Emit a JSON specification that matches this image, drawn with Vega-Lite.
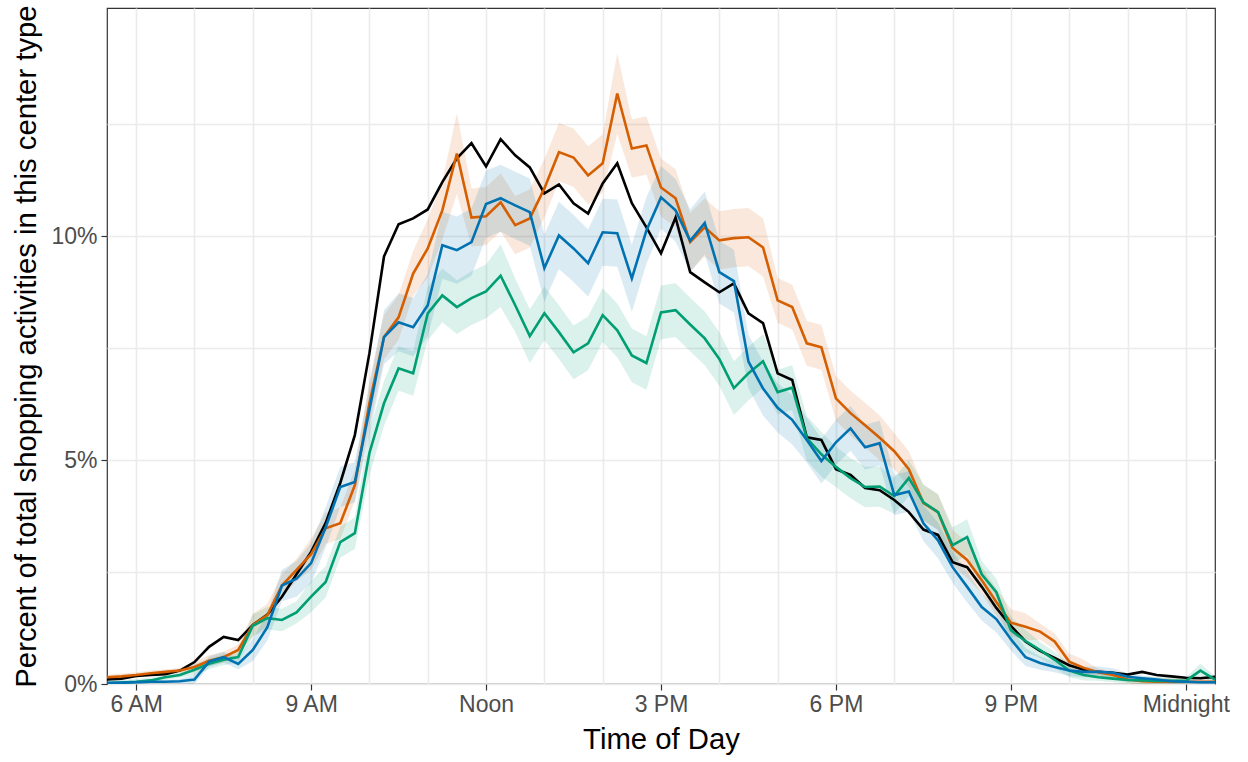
{
"$schema": "https://vega.github.io/schema/vega-lite/v6.json",
"width": 1108, "height": 676,
"autosize": {"type": "none"},
"padding": {"left": 107, "top": 8, "right": 33, "bottom": 78},
"background": "white",
"config": {
 "view": {"stroke": "#333333", "strokeWidth": 1.2},
 "font": "Liberation Sans",
 "axis": {"domain": false, "gridColor": "#EBEBEB", "gridWidth": 1.6, "tickColor": "#333333", "tickSize": 6, "tickWidth": 1.2, "labelColor": "#4D4D4D", "labelFontSize": 23, "titleFontSize": 29.3, "titleFontWeight": "normal", "titleColor": "#000000", "labelFont": "Liberation Sans", "titleFont": "Liberation Sans", "labelOverlap": false, "labelFlush": false}
},
"data": {"values": [
{"t":5.5,"s":"k","v":0.1,"e":0},{"t":5.75,"s":"k","v":0.12,"e":0},{"t":6,"s":"k","v":0.18,"e":0},{"t":6.25,"s":"k","v":0.2,"e":0},{"t":6.5,"s":"k","v":0.22,"e":0},{"t":6.75,"s":"k","v":0.3,"e":0},{"t":7,"s":"k","v":0.49,"e":0},{"t":7.25,"s":"k","v":0.83,"e":0},{"t":7.5,"s":"k","v":1.05,"e":0},{"t":7.75,"s":"k","v":0.98,"e":0},{"t":8,"s":"k","v":1.32,"e":0},{"t":8.25,"s":"k","v":1.55,"e":0},{"t":8.5,"s":"k","v":1.95,"e":0},{"t":8.75,"s":"k","v":2.45,"e":0},{"t":9,"s":"k","v":2.95,"e":0},{"t":9.25,"s":"k","v":3.6,"e":0},{"t":9.5,"s":"k","v":4.49,"e":0},{"t":9.75,"s":"k","v":5.56,"e":0},{"t":10,"s":"k","v":7.39,"e":0},{"t":10.25,"s":"k","v":9.55,"e":0},{"t":10.5,"s":"k","v":10.27,"e":0},{"t":10.75,"s":"k","v":10.4,"e":0},{"t":11,"s":"k","v":10.6,"e":0},{"t":11.25,"s":"k","v":11.21,"e":0},{"t":11.5,"s":"k","v":11.74,"e":0},{"t":11.75,"s":"k","v":12.08,"e":0},{"t":12,"s":"k","v":11.56,"e":0},{"t":12.25,"s":"k","v":12.17,"e":0},{"t":12.5,"s":"k","v":11.81,"e":0},{"t":12.75,"s":"k","v":11.54,"e":0},{"t":13,"s":"k","v":10.96,"e":0},{"t":13.25,"s":"k","v":11.16,"e":0},{"t":13.5,"s":"k","v":10.74,"e":0},{"t":13.75,"s":"k","v":10.51,"e":0},{"t":14,"s":"k","v":11.18,"e":0},{"t":14.25,"s":"k","v":11.63,"e":0},{"t":14.5,"s":"k","v":10.74,"e":0},{"t":14.75,"s":"k","v":10.2,"e":0},{"t":15,"s":"k","v":9.62,"e":0},{"t":15.25,"s":"k","v":10.42,"e":0},{"t":15.5,"s":"k","v":9.2,"e":0},{"t":15.75,"s":"k","v":8.97,"e":0},{"t":16,"s":"k","v":8.75,"e":0},{"t":16.25,"s":"k","v":8.95,"e":0},{"t":16.5,"s":"k","v":8.28,"e":0},{"t":16.75,"s":"k","v":8.06,"e":0},{"t":17,"s":"k","v":6.94,"e":0},{"t":17.25,"s":"k","v":6.79,"e":0},{"t":17.5,"s":"k","v":5.51,"e":0},{"t":17.75,"s":"k","v":5.45,"e":0},{"t":18,"s":"k","v":4.8,"e":0},{"t":18.25,"s":"k","v":4.67,"e":0},{"t":18.5,"s":"k","v":4.38,"e":0},{"t":18.75,"s":"k","v":4.33,"e":0},{"t":19,"s":"k","v":4.11,"e":0},{"t":19.25,"s":"k","v":3.84,"e":0},{"t":19.5,"s":"k","v":3.45,"e":0},{"t":19.75,"s":"k","v":3.33,"e":0},{"t":20,"s":"k","v":2.72,"e":0},{"t":20.25,"s":"k","v":2.61,"e":0},{"t":20.5,"s":"k","v":2.17,"e":0},{"t":20.75,"s":"k","v":1.7,"e":0},{"t":21,"s":"k","v":1.3,"e":0},{"t":21.25,"s":"k","v":0.95,"e":0},{"t":21.5,"s":"k","v":0.74,"e":0},{"t":21.75,"s":"k","v":0.58,"e":0},{"t":22,"s":"k","v":0.42,"e":0},{"t":22.25,"s":"k","v":0.32,"e":0},{"t":22.5,"s":"k","v":0.27,"e":0},{"t":22.75,"s":"k","v":0.25,"e":0},{"t":23,"s":"k","v":0.21,"e":0},{"t":23.25,"s":"k","v":0.27,"e":0},{"t":23.5,"s":"k","v":0.2,"e":0},{"t":23.75,"s":"k","v":0.17,"e":0},{"t":24,"s":"k","v":0.14,"e":0},{"t":24.25,"s":"k","v":0.13,"e":0},{"t":24.5,"s":"k","v":0.16,"e":0},
{"t":5.5,"s":"o","v":0.15,"e":0.06},{"t":5.75,"s":"o","v":0.17,"e":0.06},{"t":6,"s":"o","v":0.2,"e":0.06},{"t":6.25,"s":"o","v":0.24,"e":0.06},{"t":6.5,"s":"o","v":0.27,"e":0.06},{"t":6.75,"s":"o","v":0.3,"e":0.06},{"t":7,"s":"o","v":0.38,"e":0.12},{"t":7.25,"s":"o","v":0.52,"e":0.12},{"t":7.5,"s":"o","v":0.6,"e":0.12},{"t":7.75,"s":"o","v":0.76,"e":0.12},{"t":8,"s":"o","v":1.32,"e":0.25},{"t":8.25,"s":"o","v":1.54,"e":0.25},{"t":8.5,"s":"o","v":2.2,"e":0.25},{"t":8.75,"s":"o","v":2.55,"e":0.25},{"t":9,"s":"o","v":2.9,"e":0.35},{"t":9.25,"s":"o","v":3.48,"e":0.35},{"t":9.5,"s":"o","v":3.59,"e":0.35},{"t":9.75,"s":"o","v":4.44,"e":0.35},{"t":10,"s":"o","v":6.27,"e":0.5},{"t":10.25,"s":"o","v":7.75,"e":0.5},{"t":10.5,"s":"o","v":8.19,"e":0.5},{"t":10.75,"s":"o","v":9.17,"e":0.5},{"t":11,"s":"o","v":9.73,"e":0.65},{"t":11.25,"s":"o","v":10.58,"e":0.65},{"t":11.5,"s":"o","v":11.85,"e":0.9},{"t":11.75,"s":"o","v":10.42,"e":0.65},{"t":12,"s":"o","v":10.45,"e":0.65},{"t":12.25,"s":"o","v":10.76,"e":0.65},{"t":12.5,"s":"o","v":10.25,"e":0.65},{"t":12.75,"s":"o","v":10.4,"e":0.65},{"t":13,"s":"o","v":11.07,"e":0.65},{"t":13.25,"s":"o","v":11.88,"e":0.65},{"t":13.5,"s":"o","v":11.76,"e":0.65},{"t":13.75,"s":"o","v":11.36,"e":0.65},{"t":14,"s":"o","v":11.63,"e":0.65},{"t":14.25,"s":"o","v":13.19,"e":0.9},{"t":14.5,"s":"o","v":11.96,"e":0.65},{"t":14.75,"s":"o","v":12.03,"e":0.65},{"t":15,"s":"o","v":11.09,"e":0.65},{"t":15.25,"s":"o","v":10.85,"e":0.65},{"t":15.5,"s":"o","v":9.87,"e":0.65},{"t":15.75,"s":"o","v":10.2,"e":0.65},{"t":16,"s":"o","v":9.91,"e":0.65},{"t":16.25,"s":"o","v":9.96,"e":0.65},{"t":16.5,"s":"o","v":9.98,"e":0.65},{"t":16.75,"s":"o","v":9.75,"e":0.65},{"t":17,"s":"o","v":8.57,"e":0.5},{"t":17.25,"s":"o","v":8.42,"e":0.5},{"t":17.5,"s":"o","v":7.61,"e":0.5},{"t":17.75,"s":"o","v":7.52,"e":0.5},{"t":18,"s":"o","v":6.38,"e":0.5},{"t":18.25,"s":"o","v":6.05,"e":0.5},{"t":18.5,"s":"o","v":5.78,"e":0.5},{"t":18.75,"s":"o","v":5.5,"e":0.5},{"t":19,"s":"o","v":5.2,"e":0.4},{"t":19.25,"s":"o","v":4.8,"e":0.4},{"t":19.5,"s":"o","v":4.04,"e":0.4},{"t":19.75,"s":"o","v":3.84,"e":0.4},{"t":20,"s":"o","v":3.04,"e":0.4},{"t":20.25,"s":"o","v":2.77,"e":0.4},{"t":20.5,"s":"o","v":2.32,"e":0.3},{"t":20.75,"s":"o","v":1.83,"e":0.3},{"t":21,"s":"o","v":1.37,"e":0.3},{"t":21.25,"s":"o","v":1.28,"e":0.3},{"t":21.5,"s":"o","v":1.17,"e":0.18},{"t":21.75,"s":"o","v":0.95,"e":0.18},{"t":22,"s":"o","v":0.5,"e":0.18},{"t":22.25,"s":"o","v":0.36,"e":0.18},{"t":22.5,"s":"o","v":0.26,"e":0.08},{"t":22.75,"s":"o","v":0.2,"e":0.08},{"t":23,"s":"o","v":0.1,"e":0.08},{"t":23.25,"s":"o","v":0.06,"e":0.08},{"t":23.5,"s":"o","v":0.05,"e":0.08},{"t":23.75,"s":"o","v":0.05,"e":0.08},{"t":24,"s":"o","v":0.05,"e":0.08},{"t":24.25,"s":"o","v":0.05,"e":0.08},{"t":24.5,"s":"o","v":0.05,"e":0.08},
{"t":5.5,"s":"g","v":0.02,"e":0.06},{"t":5.75,"s":"g","v":0.03,"e":0.06},{"t":6,"s":"g","v":0.05,"e":0.06},{"t":6.25,"s":"g","v":0.08,"e":0.06},{"t":6.5,"s":"g","v":0.15,"e":0.06},{"t":6.75,"s":"g","v":0.2,"e":0.06},{"t":7,"s":"g","v":0.32,"e":0.12},{"t":7.25,"s":"g","v":0.45,"e":0.12},{"t":7.5,"s":"g","v":0.54,"e":0.12},{"t":7.75,"s":"g","v":0.6,"e":0.12},{"t":8,"s":"g","v":1.3,"e":0.25},{"t":8.25,"s":"g","v":1.47,"e":0.25},{"t":8.5,"s":"g","v":1.43,"e":0.25},{"t":8.75,"s":"g","v":1.6,"e":0.25},{"t":9,"s":"g","v":1.95,"e":0.35},{"t":9.25,"s":"g","v":2.28,"e":0.35},{"t":9.5,"s":"g","v":3.17,"e":0.35},{"t":9.75,"s":"g","v":3.37,"e":0.35},{"t":10,"s":"g","v":5.16,"e":0.5},{"t":10.25,"s":"g","v":6.27,"e":0.5},{"t":10.5,"s":"g","v":7.05,"e":0.5},{"t":10.75,"s":"g","v":6.94,"e":0.5},{"t":11,"s":"g","v":8.28,"e":0.6},{"t":11.25,"s":"g","v":8.68,"e":0.6},{"t":11.5,"s":"g","v":8.42,"e":0.6},{"t":11.75,"s":"g","v":8.62,"e":0.6},{"t":12,"s":"g","v":8.77,"e":0.6},{"t":12.25,"s":"g","v":9.12,"e":0.7},{"t":12.5,"s":"g","v":8.46,"e":0.6},{"t":12.75,"s":"g","v":7.77,"e":0.6},{"t":13,"s":"g","v":8.28,"e":0.6},{"t":13.25,"s":"g","v":7.86,"e":0.6},{"t":13.5,"s":"g","v":7.41,"e":0.6},{"t":13.75,"s":"g","v":7.61,"e":0.6},{"t":14,"s":"g","v":8.24,"e":0.6},{"t":14.25,"s":"g","v":7.9,"e":0.6},{"t":14.5,"s":"g","v":7.34,"e":0.6},{"t":14.75,"s":"g","v":7.17,"e":0.6},{"t":15,"s":"g","v":8.3,"e":0.6},{"t":15.25,"s":"g","v":8.35,"e":0.6},{"t":15.5,"s":"g","v":8.03,"e":0.6},{"t":15.75,"s":"g","v":7.72,"e":0.6},{"t":16,"s":"g","v":7.26,"e":0.6},{"t":16.25,"s":"g","v":6.61,"e":0.6},{"t":16.5,"s":"g","v":6.94,"e":0.6},{"t":16.75,"s":"g","v":7.21,"e":0.6},{"t":17,"s":"g","v":6.52,"e":0.5},{"t":17.25,"s":"g","v":6.62,"e":0.5},{"t":17.5,"s":"g","v":5.49,"e":0.5},{"t":17.75,"s":"g","v":5.13,"e":0.5},{"t":18,"s":"g","v":4.85,"e":0.45},{"t":18.25,"s":"g","v":4.6,"e":0.45},{"t":18.5,"s":"g","v":4.4,"e":0.45},{"t":18.75,"s":"g","v":4.41,"e":0.45},{"t":19,"s":"g","v":4.2,"e":0.4},{"t":19.25,"s":"g","v":4.6,"e":0.4},{"t":19.5,"s":"g","v":4.06,"e":0.4},{"t":19.75,"s":"g","v":3.84,"e":0.4},{"t":20,"s":"g","v":3.1,"e":0.4},{"t":20.25,"s":"g","v":3.28,"e":0.4},{"t":20.5,"s":"g","v":2.45,"e":0.3},{"t":20.75,"s":"g","v":2.05,"e":0.3},{"t":21,"s":"g","v":1.2,"e":0.3},{"t":21.25,"s":"g","v":0.96,"e":0.25},{"t":21.5,"s":"g","v":0.76,"e":0.18},{"t":21.75,"s":"g","v":0.54,"e":0.18},{"t":22,"s":"g","v":0.3,"e":0.15},{"t":22.25,"s":"g","v":0.2,"e":0.12},{"t":22.5,"s":"g","v":0.15,"e":0.08},{"t":22.75,"s":"g","v":0.12,"e":0.08},{"t":23,"s":"g","v":0.09,"e":0.08},{"t":23.25,"s":"g","v":0.08,"e":0.08},{"t":23.5,"s":"g","v":0.07,"e":0.08},{"t":23.75,"s":"g","v":0.07,"e":0.08},{"t":24,"s":"g","v":0.07,"e":0.08},{"t":24.25,"s":"g","v":0.3,"e":0.15},{"t":24.5,"s":"g","v":0.1,"e":0.08},
{"t":5.5,"s":"b","v":0.02,"e":0.04},{"t":5.75,"s":"b","v":0.03,"e":0.04},{"t":6,"s":"b","v":0.04,"e":0.04},{"t":6.25,"s":"b","v":0.05,"e":0.04},{"t":6.5,"s":"b","v":0.05,"e":0.04},{"t":6.75,"s":"b","v":0.06,"e":0.05},{"t":7,"s":"b","v":0.1,"e":0.1},{"t":7.25,"s":"b","v":0.5,"e":0.12},{"t":7.5,"s":"b","v":0.6,"e":0.12},{"t":7.75,"s":"b","v":0.45,"e":0.12},{"t":8,"s":"b","v":0.76,"e":0.25},{"t":8.25,"s":"b","v":1.27,"e":0.3},{"t":8.5,"s":"b","v":2.2,"e":0.35},{"t":8.75,"s":"b","v":2.35,"e":0.4},{"t":9,"s":"b","v":2.7,"e":0.45},{"t":9.25,"s":"b","v":3.5,"e":0.45},{"t":9.5,"s":"b","v":4.4,"e":0.45},{"t":9.75,"s":"b","v":4.51,"e":0.45},{"t":10,"s":"b","v":6.12,"e":0.55},{"t":10.25,"s":"b","v":7.75,"e":0.6},{"t":10.5,"s":"b","v":8.08,"e":0.65},{"t":10.75,"s":"b","v":7.97,"e":0.65},{"t":11,"s":"b","v":8.46,"e":0.7},{"t":11.25,"s":"b","v":9.8,"e":0.75},{"t":11.5,"s":"b","v":9.69,"e":0.75},{"t":11.75,"s":"b","v":9.87,"e":0.75},{"t":12,"s":"b","v":10.72,"e":0.75},{"t":12.25,"s":"b","v":10.85,"e":0.75},{"t":12.5,"s":"b","v":10.69,"e":0.75},{"t":12.75,"s":"b","v":10.54,"e":0.75},{"t":13,"s":"b","v":9.29,"e":0.75},{"t":13.25,"s":"b","v":10.02,"e":0.75},{"t":13.5,"s":"b","v":9.73,"e":0.75},{"t":13.75,"s":"b","v":9.4,"e":0.75},{"t":14,"s":"b","v":10.09,"e":0.75},{"t":14.25,"s":"b","v":10.07,"e":0.75},{"t":14.5,"s":"b","v":9.06,"e":0.75},{"t":14.75,"s":"b","v":10.13,"e":0.75},{"t":15,"s":"b","v":10.87,"e":0.7},{"t":15.25,"s":"b","v":10.58,"e":0.7},{"t":15.5,"s":"b","v":9.9,"e":0.7},{"t":15.75,"s":"b","v":10.3,"e":0.7},{"t":16,"s":"b","v":9.2,"e":0.7},{"t":16.25,"s":"b","v":9.0,"e":0.7},{"t":16.5,"s":"b","v":7.2,"e":0.6},{"t":16.75,"s":"b","v":6.6,"e":0.6},{"t":17,"s":"b","v":6.17,"e":0.55},{"t":17.25,"s":"b","v":5.9,"e":0.55},{"t":17.5,"s":"b","v":5.45,"e":0.5},{"t":17.75,"s":"b","v":4.98,"e":0.5},{"t":18,"s":"b","v":5.4,"e":0.5},{"t":18.25,"s":"b","v":5.71,"e":0.5},{"t":18.5,"s":"b","v":5.29,"e":0.5},{"t":18.75,"s":"b","v":5.38,"e":0.5},{"t":19,"s":"b","v":4.22,"e":0.45},{"t":19.25,"s":"b","v":4.3,"e":0.45},{"t":19.5,"s":"b","v":3.59,"e":0.4},{"t":19.75,"s":"b","v":3.21,"e":0.4},{"t":20,"s":"b","v":2.61,"e":0.35},{"t":20.25,"s":"b","v":2.17,"e":0.35},{"t":20.5,"s":"b","v":1.72,"e":0.3},{"t":20.75,"s":"b","v":1.45,"e":0.3},{"t":21,"s":"b","v":1.0,"e":0.25},{"t":21.25,"s":"b","v":0.6,"e":0.2},{"t":21.5,"s":"b","v":0.47,"e":0.15},{"t":21.75,"s":"b","v":0.38,"e":0.12},{"t":22,"s":"b","v":0.3,"e":0.12},{"t":22.25,"s":"b","v":0.27,"e":0.12},{"t":22.5,"s":"b","v":0.27,"e":0.12},{"t":22.75,"s":"b","v":0.25,"e":0.1},{"t":23,"s":"b","v":0.16,"e":0.08},{"t":23.25,"s":"b","v":0.13,"e":0.06},{"t":23.5,"s":"b","v":0.1,"e":0.05},{"t":23.75,"s":"b","v":0.06,"e":0.05},{"t":24,"s":"b","v":0.05,"e":0.04},{"t":24.25,"s":"b","v":0.04,"e":0.04},{"t":24.5,"s":"b","v":0.04,"e":0.04}
]},
"encoding": {
 "x": {"field": "t", "type": "quantitative",
   "scale": {"domain": [5.5, 24.5], "nice": false, "zero": false},
   "axis": {"values": [6,7,8,9,10,11,12,13,14,15,16,17,18,19,20,21,22,23,24],
     "labelExpr": "datum.value==6?'6 AM':datum.value==9?'9 AM':datum.value==12?'Noon':datum.value==15?'3 PM':datum.value==18?'6 PM':datum.value==21?'9 PM':datum.value==24?'Midnight':''",
     "tickOpacity": {"condition": {"test": "datum.value % 3 == 0", "value": 1}, "value": 0},
     "title": "Time of Day", "labelPadding": 3, "titlePadding": 9}},
 "y": {"field": "v", "type": "quantitative",
   "scale": {"domain": [0, 15.1], "nice": false, "zero": false},
   "axis": {"values": [0, 2.5, 5, 7.5, 10, 12.5],
     "labelExpr": "datum.value==0?'0%':datum.value==5?'5%':datum.value==10?'10%':''",
     "tickOpacity": {"condition": {"test": "datum.value % 5 == 0", "value": 1}, "value": 0},
     "title": "Percent of total shopping activities in this center type", "labelPadding": 4, "titlePadding": 9}},
 "color": {"field": "s", "type": "nominal", "legend": null,
   "scale": {"domain": ["k", "o", "g", "b"], "range": ["#000000", "#D55E00", "#009E73", "#0072B2"]}}
},
"layer": [
 {"transform": [{"filter": "datum.s !== 'k'"}],
  "mark": {"type": "errorband", "band": {"opacity": 0.14}, "clip": true},
  "encoding": {"yError": {"field": "e"}}},
 {"mark": {"type": "line", "strokeWidth": 2.6, "clip": true}, "encoding": {}}
]
}
